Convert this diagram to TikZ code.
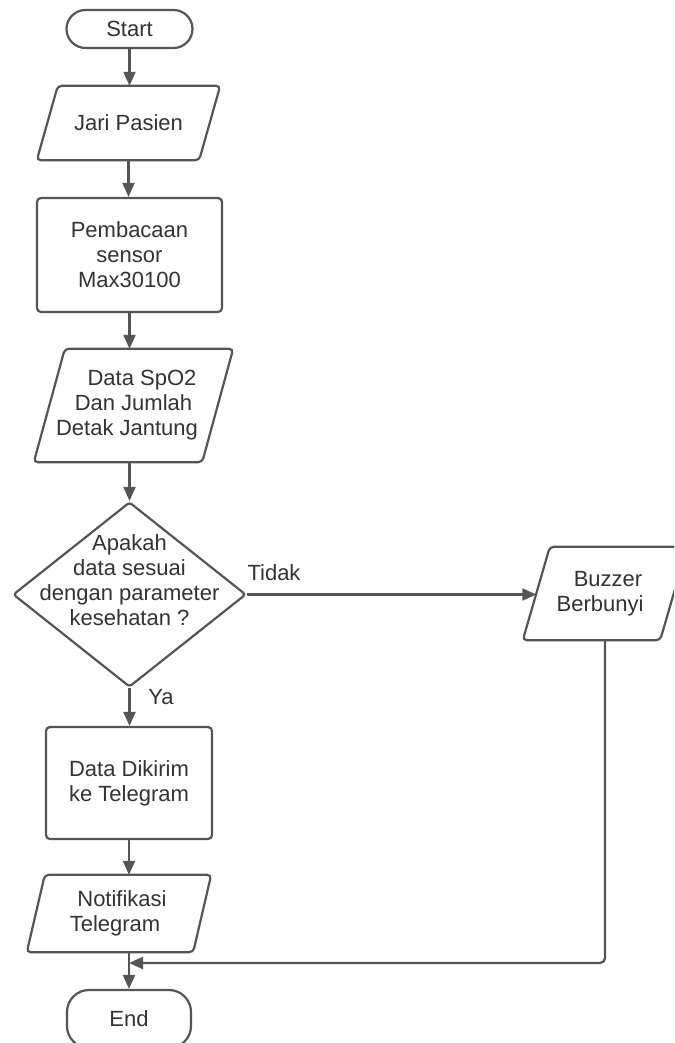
\documentclass[tikz,border=0pt]{standalone}
\usepackage{fontspec}
\setmainfont{Liberation Sans}
\usetikzlibrary{shapes.geometric,arrows.meta}
\definecolor{linec}{HTML}{555555}
\definecolor{txtc}{HTML}{333333}
\newcommand{\ioframe}[2]{\draw[frame, rounded corners=4pt] ([xshift=-#2]#1.south west) -- ([xshift=#2]#1.north west) -- ([xshift=#2]#1.north east) -- ([xshift=-#2]#1.south east) -- cycle;}
\begin{document}
\begin{tikzpicture}[x=1pt,y=-1pt,
  txt/.style={text=txtc, font=\fontsize{22}{25}\selectfont, align=center, inner sep=0pt},
  frame/.style={draw=linec, line width=2.2pt},
  term/.style={txt, frame, rectangle, rounded corners=19pt},
  proc/.style={txt, frame, rectangle, rounded corners=4pt},
  iotext/.style={txt, rectangle},
  dec/.style={txt, frame, diamond, rounded corners=3pt},
  arr/.style={draw=linec, line width=2.2pt, -{Triangle[length=14pt,width=12pt]}},
  lab/.style={txt}]
\clip (0,0) rectangle (674,1043);
\fill[white] (0,0) rectangle (674,1043);

\node[term, minimum width=126pt, minimum height=38pt] (start) at (129.5,29) {Start};
\node[iotext, minimum width=162pt, minimum height=74pt] (jari) at (128.5,123) {Jari Pasien};
\ioframe{jari}{10.5pt}
\node[proc, minimum width=185pt, minimum height=114pt] (baca) at (129.5,255) {Pembacaan\\sensor\\Max30100};
\node[iotext, minimum width=168pt, minimum height=113pt] (spo) at (133.5,405.5) {\hspace*{17pt}Data SpO2\\Dan Jumlah\\Detak Jantung\hspace*{13pt}};
\ioframe{spo}{15.5pt}
\node[dec, minimum width=233pt, minimum height=185pt] (dec) at (129.5,594.5) {};
\node[lab] (dectext) at (129.5,580) {Apakah\\data sesuai\\dengan parameter\\kesehatan ?};
\node[iotext, minimum width=137pt, minimum height=93pt] (buzz) at (605,593.5) {\hspace*{6pt}Buzzer\\Berbunyi\hspace*{10pt}};
\ioframe{buzz}{13.5pt}
\node[proc, minimum width=166pt, minimum height=112pt] (kirim) at (129,783) {Data Dikirim\\ke Telegram};
\node[iotext, minimum width=166pt, minimum height=77pt] (notif) at (119,913.5) {\hspace*{6pt}Notifikasi\\Telegram\hspace*{8pt}};
\ioframe{notif}{9pt}
\node[term, rounded corners=22pt, minimum width=124pt, minimum height=58pt] (end) at (129,1019) {End};

\node[lab] (tidak) at (274,573) {Tidak};
\node[lab] (ya) at (161,697) {Ya};
\coordinate (join) at (129,963);

\draw[arr] (start.south) -- (start.south |- jari.north);
\draw[arr] (jari.south) -- (jari.south |- baca.north);
\draw[arr] (baca.south) -- (baca.south |- spo.north);
\draw[arr] (dec.north |- spo.south) -- (dec.north);
\draw[arr] (dec.east) -- (dec.east -| buzz.west);
\draw[arr] (dec.south) -- (dec.south |- kirim.north);
\draw[arr] (kirim.south) -- (kirim.south |- notif.north);
\draw[arr] (end.north |- notif.south) -- (end.north);
\draw[arr, rounded corners=5pt] (buzz.south) |- (join);
\end{tikzpicture}
\end{document}
